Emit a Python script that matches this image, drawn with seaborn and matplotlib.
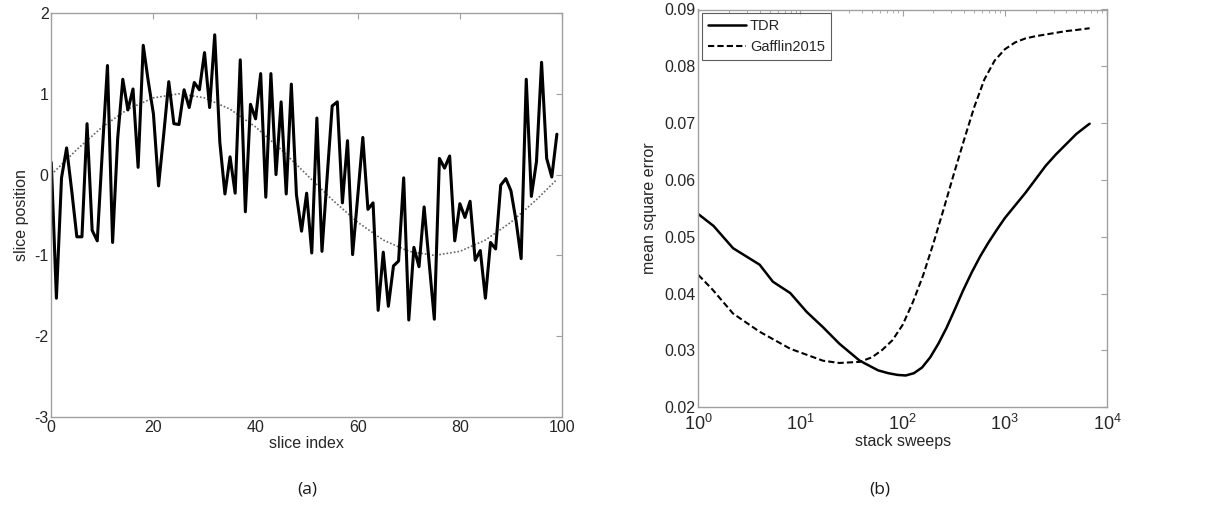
import numpy as np
import seaborn as sns
import matplotlib.pyplot as plt
from matplotlib.ticker import LogLocator, NullFormatter

# ---- panel (a): slice positions ----
slice_index = list(range(100))
slice_position = [
    0.15, -1.53, -0.04, 0.33, -0.2, -0.77, -0.77, 0.63, -0.69, -0.82,
    0.3, 1.35, -0.84, 0.45, 1.18, 0.8, 1.06, 0.09, 1.6, 1.15,
    0.75, -0.14, 0.49, 1.15, 0.63, 0.62, 1.05, 0.83, 1.14, 1.05,
    1.51, 0.83, 1.73, 0.4, -0.24, 0.22, -0.23, 1.42, -0.46, 0.87,
    0.69, 1.25, -0.28, 1.25, 0.0, 0.9, -0.24, 1.12, -0.25, -0.7,
    -0.23, -0.97, 0.7, -0.95, -0.04, 0.85, 0.9, -0.35, 0.42, -0.99,
    -0.27, 0.46, -0.43, -0.35, -1.68, -0.96, -1.63, -1.13, -1.07, -0.04,
    -1.8, -0.9, -1.14, -0.4, -1.1, -1.79, 0.2, 0.08, 0.23, -0.82,
    -0.36, -0.53, -0.33, -1.06, -0.94, -1.53, -0.84, -0.92, -0.13, -0.05,
    -0.2, -0.57, -1.04, 1.18, -0.27, 0.16, 1.39, 0.2, -0.03, 0.5,
]
true_index = [0, 5, 10, 15, 20, 25, 30, 35, 40, 45, 50,
              55, 60, 65, 70, 75, 80, 85, 90, 95, 99]
true_position = [0.0, 0.31, 0.59, 0.81, 0.95, 1.0, 0.95, 0.81, 0.59, 0.31, 0.0,
                 -0.31, -0.59, -0.81, -0.95, -1.0, -0.95, -0.81, -0.59, -0.31, -0.06]

# ---- panel (b): mean square error vs stack sweeps (log10 of sweeps) ----
tdr_log_sweeps = [0.0, 0.15, 0.34, 0.6, 0.73, 0.9, 1.06, 1.22, 1.38, 1.58,
                  1.76, 1.86, 1.95, 2.03, 2.11, 2.19, 2.27, 2.35, 2.43, 2.51,
                  2.59, 2.675, 2.76, 2.84, 2.92, 3.0, 3.1, 3.2, 3.3, 3.4,
                  3.5, 3.6, 3.7, 3.8, 3.83]
tdr_mse = [0.0540, 0.0519, 0.0480, 0.0451, 0.0421, 0.0401, 0.0368, 0.0341,
           0.0312, 0.0282, 0.0265, 0.0260, 0.0257, 0.0256, 0.0260, 0.0270,
           0.0288, 0.0312, 0.0340, 0.0372, 0.0405, 0.0437, 0.0466, 0.0490,
           0.0512, 0.0533, 0.0555, 0.0577, 0.0601, 0.0625, 0.0645, 0.0663,
           0.0681, 0.0695, 0.0699]
gaf_log_sweeps = [0.0, 0.14, 0.34, 0.6, 0.9, 1.22, 1.38, 1.58, 1.7, 1.8,
                  1.9, 2.0, 2.1, 2.2, 2.3, 2.4, 2.5, 2.6, 2.7, 2.8, 2.9,
                  3.0, 3.1, 3.2, 3.3, 3.4, 3.5, 3.6, 3.7, 3.83]
gaf_mse = [0.0433, 0.0407, 0.0365, 0.0333, 0.0303, 0.0282, 0.0278, 0.0280,
           0.0288, 0.0301, 0.0318, 0.0345, 0.0385, 0.0432, 0.0488, 0.0548,
           0.0610, 0.0670, 0.0728, 0.0777, 0.0810, 0.0830, 0.0842, 0.0849,
           0.0853, 0.0856, 0.0859, 0.0862, 0.0864, 0.0867]

sns.set_style("white")
plt.rcParams['font.family'] = ['Liberation Sans', 'DejaVu Sans']
plt.rcParams['mathtext.default'] = 'regular'
plt.rcParams['axes.unicode_minus'] = False

W, H = 1229, 509
fig = plt.figure(figsize=(W / 100, H / 100), dpi=100)
# axes placed in pixel units of the reference
ax1 = fig.add_axes([51.3 / W, 1 - 417 / H, (562 - 51.3) / W, (417 - 13) / H])
ax2 = fig.add_axes([698.3 / W, 1 - 407.3 / H, (1107 - 698.3) / W, (407.3 - 9.5) / H])

TICK_FS = 11.5


def matlab_box(ax):
    for s in ax.spines.values():
        s.set_color('#a0a0a0')
        s.set_linewidth(1.0)
    ax.tick_params(direction='in', top=True, right=True, length=4,
                   color='#a0a0a0', labelcolor='#262626', labelsize=TICK_FS,
                   pad=2)
    ax.tick_params(which='minor', direction='in', top=True, right=True,
                   length=2, color='#a0a0a0')


# (a)
sns.lineplot(x=true_index, y=true_position, ax=ax1, color='#666666',
             linestyle=(0, (1, 1.2)), linewidth=1.2)
sns.lineplot(x=slice_index, y=slice_position, ax=ax1, color='black',
             linewidth=2.2)
ax1.set_xlim(0, 100)
ax1.set_ylim(-3, 2)
ax1.set_xticks([0, 20, 40, 60, 80, 100])
ax1.set_yticks([-3, -2, -1, 0, 1, 2])
ax1.set_xlabel('slice index', fontsize=TICK_FS, color='#262626', labelpad=1)
ax1.set_ylabel('slice position', fontsize=TICK_FS, color='#262626', labelpad=4)
matlab_box(ax1)

# (b)
tdr_x = np.power(10.0, tdr_log_sweeps)
gaf_x = np.power(10.0, gaf_log_sweeps)
sns.lineplot(x=tdr_x, y=tdr_mse, ax=ax2, color='black', linewidth=1.8,
             label='TDR')
sns.lineplot(x=gaf_x, y=gaf_mse, ax=ax2, color='black', linewidth=1.5,
             linestyle=(0, (3, 1.5)), label='Gafflin2015')
ax2.set_xscale('log')
ax2.set_xlim(1, 1e4)
ax2.set_ylim(0.02, 0.09)
ax2.set_yticks([0.02, 0.03, 0.04, 0.05, 0.06, 0.07, 0.08, 0.09])
ax2.set_yticklabels(['0.02', '0.03', '0.04', '0.05', '0.06', '0.07', '0.08', '0.09'])
ax2.xaxis.set_minor_locator(LogLocator(base=10, subs=np.arange(2, 10), numticks=50))
ax2.xaxis.set_minor_formatter(NullFormatter())
ax2.set_xticks([1, 10, 100, 1000, 10000])
ax2.set_xticklabels(['$10^{0}$', '$10^{1}$', '$10^{2}$', '$10^{3}$', '$10^{4}$'])
ax2.set_xlabel('stack sweeps', fontsize=TICK_FS, color='#262626', labelpad=0)
ax2.set_ylabel('mean square error', fontsize=TICK_FS, color='#262626', labelpad=5)
matlab_box(ax2)
ax2.tick_params(axis='x', labelsize=13, pad=5)
leg = ax2.legend(loc='upper left', frameon=True, fancybox=False,
                 fontsize=10.5, handlelength=2.6, borderpad=0.4,
                 borderaxespad=0.25, labelspacing=0.5, handletextpad=0.3)
leg.get_frame().set_edgecolor('#333333')
leg.get_frame().set_linewidth(0.8)

fig.text(307 / W, 1 - 490 / H, '(a)', ha='center', va='center',
         fontsize=12.5, family='Open Sans', color='#1a1a1a')
fig.text(880 / W, 1 - 490 / H, '(b)', ha='center', va='center',
         fontsize=12.5, family='Open Sans', color='#1a1a1a')

fig.savefig('out.png', dpi=100)
